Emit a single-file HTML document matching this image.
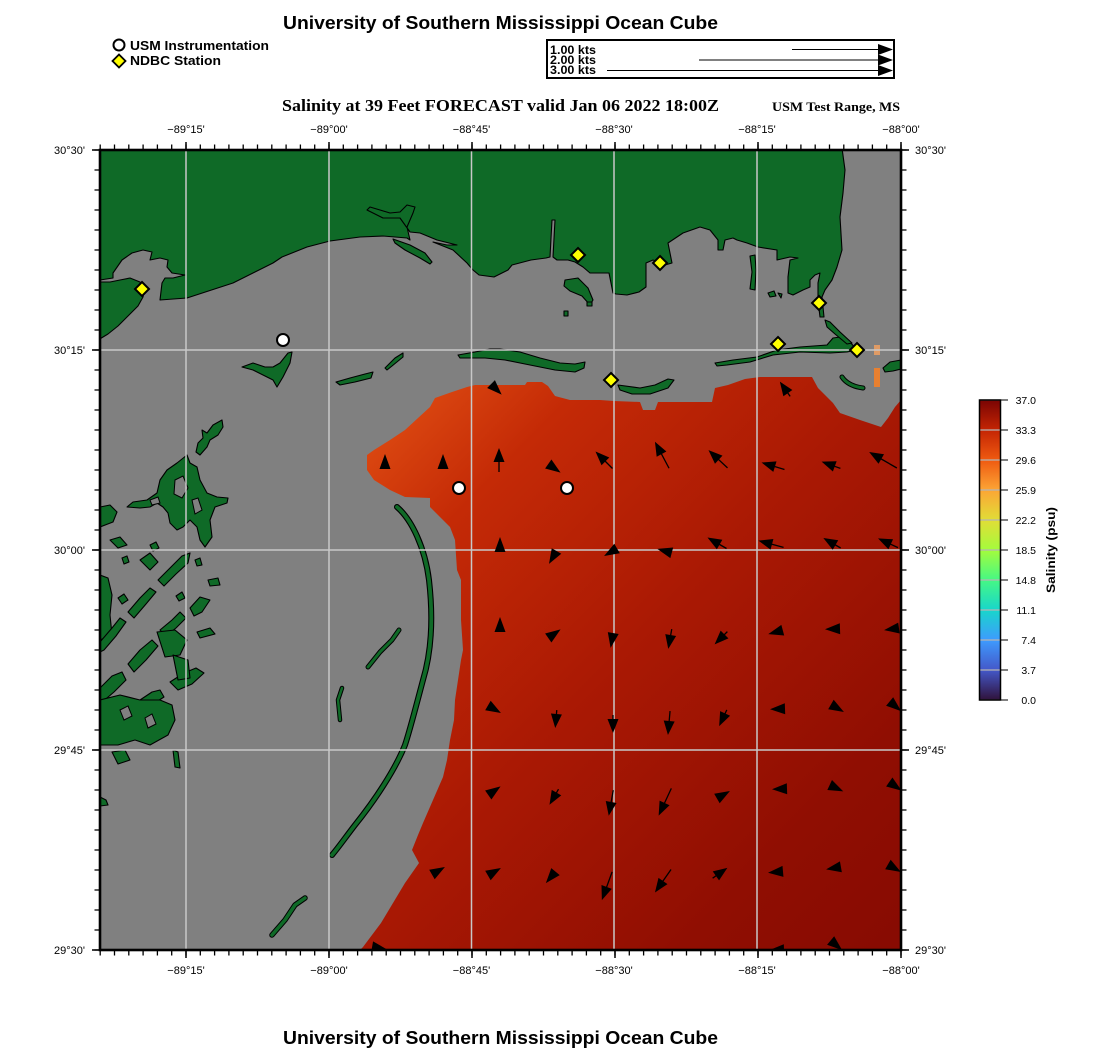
<!DOCTYPE html>
<html><head><meta charset="utf-8"><style>
html,body{margin:0;padding:0;background:#fff;}
svg{display:block;}
text{font-family:"Liberation Sans",sans-serif;}
.ser{font-family:"Liberation Serif",serif;font-weight:bold;}
.b{font-weight:bold;}
</style></head><body>
<svg width="1100" height="1050" viewBox="0 0 1100 1050" xmlns="http://www.w3.org/2000/svg">
<defs>
<linearGradient id="sal" gradientUnits="userSpaceOnUse" x1="390" y1="430" x2="900" y2="930">
<stop offset="0" stop-color="#da4610"/>
<stop offset="0.15" stop-color="#c42a06"/>
<stop offset="0.45" stop-color="#aa1904"/>
<stop offset="0.8" stop-color="#900e02"/>
<stop offset="1" stop-color="#880b02"/>
</linearGradient>
<linearGradient id="cb" x1="0" y1="1" x2="0" y2="0">
<stop offset="0" stop-color="#30123b"/>
<stop offset="0.1" stop-color="#4458c9"/>
<stop offset="0.2" stop-color="#3e9bfe"/>
<stop offset="0.3" stop-color="#18d6cb"/>
<stop offset="0.4" stop-color="#46f884"/>
<stop offset="0.5" stop-color="#a4fc3c"/>
<stop offset="0.6" stop-color="#e1dd37"/>
<stop offset="0.7" stop-color="#fca535"/>
<stop offset="0.8" stop-color="#ef5a11"/>
<stop offset="0.9" stop-color="#c42503"/>
<stop offset="1" stop-color="#7a0403"/>
</linearGradient>
<clipPath id="mapclip"><rect x="100" y="150" width="801" height="800"/></clipPath>
</defs>

<!-- Titles -->
<text x="500.5" y="29" text-anchor="middle" class="b" font-size="18" textLength="435" lengthAdjust="spacingAndGlyphs">University of Southern Mississippi Ocean Cube</text>
<text x="500.5" y="1044" text-anchor="middle" class="b" font-size="18" textLength="435" lengthAdjust="spacingAndGlyphs">University of Southern Mississippi Ocean Cube</text>

<!-- Legend -->
<circle cx="119" cy="45" r="5.5" fill="#fff" stroke="#000" stroke-width="2"/>
<text x="130" y="50" class="b" font-size="13" textLength="139" lengthAdjust="spacingAndGlyphs">USM Instrumentation</text>
<polygon points="119,54.5 125.5,61 119,67.5 112.5,61" fill="#ffff00" stroke="#000" stroke-width="1.8"/>
<text x="130" y="65" class="b" font-size="13" textLength="91" lengthAdjust="spacingAndGlyphs">NDBC Station</text>

<!-- Vector scale box -->
<rect x="547" y="40" width="347" height="38" fill="#fff" stroke="#000" stroke-width="2"/>
<text x="550" y="54" class="b" font-size="12" textLength="46" lengthAdjust="spacingAndGlyphs">1.00 kts</text>
<text x="550" y="64" class="b" font-size="12" textLength="46" lengthAdjust="spacingAndGlyphs">2.00 kts</text>
<text x="550" y="74" class="b" font-size="12" textLength="46" lengthAdjust="spacingAndGlyphs">3.00 kts</text>
<g stroke="#000" stroke-width="1">
<line x1="792" y1="49.5" x2="882" y2="49.5"/>
<line x1="699" y1="60" x2="882" y2="60"/>
<line x1="607" y1="70.5" x2="882" y2="70.5"/>
</g>
<g fill="#000">
<polygon points="878,44 893,49.5 878,55"/>
<polygon points="878,54.5 893,60 878,65.5"/>
<polygon points="878,65 893,70.5 878,76"/>
</g>

<!-- Subtitle -->
<text x="500.5" y="111" text-anchor="middle" class="ser" font-size="17" textLength="437" lengthAdjust="spacingAndGlyphs">Salinity at 39 Feet FORECAST valid Jan 06 2022 18:00Z</text>
<text x="772" y="111" class="ser" font-size="13" textLength="128" lengthAdjust="spacingAndGlyphs">USM Test Range, MS</text>

<!-- MAP -->
<g clip-path="url(#mapclip)">
<rect x="100" y="150" width="801" height="800" fill="#808080"/>

<!-- Salinity field -->
<polygon fill="url(#sal)" points="367,455 374,450 390,440 405,430 418,418 430,407 435,398 452,392 467,387 475,385 525,385 527,382 542,382 548,386 555,396 570,400 600,400 614,401 640,402 643,410 655,410 658,402 690,402 712,402 715,388 728,385 745,379 760,377 812,377 818,388 833,403 840,413 860,420 881,427 888,418 895,407 901,400 901,950 360,950 363,947 372,935 381,923 393,903 405,883 419,863 412,850 418,835 423,823 433,800 443,777 447,760 450,740 454,720 455,700 458,680 461,660 463,650 461,620 461,580 457,570 455,540 450,527 440,517 430,507 430,498 405,497 390,490 374,480 367,470"/>

<g fill="#0f6a27" stroke="#000" stroke-width="1.1" stroke-linejoin="round">
<!-- North mainland -->
<polygon points="98,148 842,148 845,170 843,193 840,217 842,250 837,267 832,280 825,290 822,297 824,317 820,317 818,300 818,283 820,273 815,275 810,280 810,287 803,290 793,295 788,293 788,277 790,260 798,258 790,257 777,260 777,250 758,247 747,243 737,240 733,238 725,240 723,250 718,250 718,240 710,230 700,227 683,233 668,243 672,263 665,265 653,260 646,263 646,287 639,292 627,295 616,294 613,293 609,273 590,273 583,267 575,262 568,260 557,260 553,257 555,220 552,220 550,257 546,258 531,260 512,265 508,270 494,277 479,275 473,270 467,263 453,250 433,242 447,245 457,245 437,240 420,233 410,232 400,218 383,218 377,215 367,210 370,207 380,210 390,213 400,212 407,205 415,207 413,213 407,227 410,240 407,238 383,236 360,237 330,241 307,247 282,257 273,263 233,283 187,298 160,300 162,283 165,278 173,278 185,275 172,273 167,267 168,260 160,258 150,260 152,252 143,250 132,253 122,260 113,273 113,278 100,280 98,280"/>
<!-- Louisiana peninsula -->
<polygon points="98,282 110,282 120,280 130,278 140,282 145,288 143,297 138,306 128,316 118,326 108,334 98,340"/>
<!-- strip islands near Biloxi -->
<polygon points="393,239 410,245 425,253 432,262 430,264 420,258 405,250 395,243"/>
<!-- Round island etc -->
<polygon points="565,280 578,278 588,288 593,300 590,305 582,296 570,291 564,286"/>
<polygon points="750,256 755,255 756,270 755,290 750,289 752,272"/>
<polygon points="768,293 774,291 776,296 770,297"/>
<polygon points="778,293 782,294 781,298"/>
<polygon points="587,302 592,302 592,306 587,306"/>
<polygon points="564,311 568,311 568,316 564,316"/>
<!-- Cat Island -->
<polygon points="242,367 253,363 265,367 273,367 280,363 288,353 292,352 290,363 283,377 277,387 273,380 267,377 253,370"/>
<!-- Ship Island -->
<polygon points="336,382 350,378 365,374 373,372 371,378 355,382 340,385"/>
<polygon points="385,368 395,358 403,353 403,357 392,366 387,370"/>
<!-- Horn Island -->
<polygon points="458,355 475,352 490,349 500,349 520,352 540,358 560,363 575,364 585,362 584,368 575,372 555,370 530,365 505,360 485,358 470,358 460,358"/>
<!-- Petit Bois -->
<polygon points="618,385 640,388 655,385 668,379 674,380 668,388 650,394 632,394 620,390"/>
<!-- Dauphin Island -->
<polygon points="715,363 733,360 757,357 777,350 800,347 827,345 833,338 840,337 850,342 857,350 847,352 830,353 800,352 773,355 750,362 727,365 717,366"/>
<!-- Mobile point strip -->
<polygon points="825,320 830,322 840,332 852,343 847,344 835,334 827,327"/>
<polygon points="883,368 890,362 901,360 901,369 893,371 885,372"/>
<!-- Marsh -->
<polygon points="222,420 223,427 218,435 210,440 207,447 200,455 196,452 198,443 203,438 202,430 207,433 213,425"/>
<polygon points="187,455 190,463 197,467 200,480 207,493 217,497 228,498 227,503 215,507 210,520 212,537 205,547 200,540 197,527 190,520 183,527 177,530 170,523 168,513 163,507 157,503 150,507 140,508 127,507 133,502 147,500 157,493 160,480 167,470 177,463"/>
<polygon points="100,507 110,505 117,512 113,522 100,527"/>
<polygon points="110,540 120,537 127,545 118,548"/>
<polygon points="100,575 108,578 112,595 110,615 112,635 100,640"/>
<!-- broken diagonal strips -->
<polygon points="100,642 112,628 120,618 126,622 116,636 104,650 100,652"/>
<polygon points="128,612 140,598 150,588 156,592 146,604 134,618"/>
<polygon points="158,580 170,568 182,556 190,553 188,563 176,574 164,586"/>
<polygon points="100,688 112,676 122,672 126,680 114,692 100,704"/>
<polygon points="128,664 140,650 152,640 158,646 146,660 134,672"/>
<polygon points="160,630 172,620 180,612 186,618 176,628 166,636"/>
<polygon points="190,608 200,597 210,600 202,612 194,616"/>
<polygon points="100,726 115,716 128,708 133,714 118,726 104,736"/>
<polygon points="140,700 152,692 160,690 164,697 150,706"/>
<polygon points="170,682 184,673 196,668 204,673 192,684 178,690"/>
<polygon points="100,700 120,695 140,700 160,700 172,705 175,720 168,735 150,745 135,740 118,745 100,745"/>
<polygon points="157,632 175,630 187,640 180,655 165,657"/>
<polygon points="173,655 188,660 190,678 178,680"/>
<polygon points="197,632 210,628 215,634 200,638"/>
<polygon points="208,580 218,578 220,585 210,586"/>
<polygon points="112,752 125,750 130,760 118,764"/>
<polygon points="173,750 178,752 180,768 175,767"/>
<polygon points="100,797 106,800 108,805 100,806"/>
<polygon points="140,560 150,553 158,562 150,570"/>
<polygon points="118,598 124,594 128,600 122,604"/>
<polygon points="176,596 182,592 185,598 179,601"/>
<polygon points="150,545 156,542 159,548 153,551"/>
<polygon points="122,558 127,556 129,562 124,564"/>
<polygon points="195,560 200,558 202,565 197,566"/>
</g>
<!-- gray holes in marsh cluster -->
<g fill="#808080" stroke="#000" stroke-width="1">
<polygon points="175,480 183,476 188,488 182,498 174,494"/>
<polygon points="192,500 198,498 202,510 195,514"/>
<polygon points="150,500 158,497 160,503 152,505"/>
<polygon points="120,710 128,706 132,716 124,720"/>
<polygon points="145,718 152,714 156,724 148,728"/>
</g>

<!-- Chandeleur arc and strands -->
<g fill="none" stroke-linecap="round" stroke-linejoin="round">
<path d="M397,507 C412,520 425,548 429,580 C433,615 432,650 423,680 C415,710 410,730 405,745 C395,770 375,800 355,825 C345,838 338,848 332,855" stroke="#000" stroke-width="6"/>
<path d="M397,507 C412,520 425,548 429,580 C433,615 432,650 423,680 C415,710 410,730 405,745 C395,770 375,800 355,825 C345,838 338,848 332,855" stroke="#0f6a27" stroke-width="3.8"/>
<path d="M368,667 L380,652 L392,640 L399,630" stroke="#000" stroke-width="5"/>
<path d="M368,667 L380,652 L392,640 L399,630" stroke="#0f6a27" stroke-width="3"/>
<path d="M340,720 L338,700 L342,688" stroke="#000" stroke-width="4.5"/>
<path d="M340,720 L338,700 L342,688" stroke="#0f6a27" stroke-width="2.5"/>
<path d="M272,935 L285,920 L295,905 L305,898" stroke="#000" stroke-width="5.5"/>
<path d="M272,935 L285,920 L295,905 L305,898" stroke="#0f6a27" stroke-width="3.5"/>
<path d="M842,377 Q848,386 863,388" stroke="#000" stroke-width="5"/>
<path d="M842,377 Q848,386 863,388" stroke="#0f6a27" stroke-width="3"/>
</g>

<!-- orange bits -->
<rect x="874" y="345" width="6" height="10" fill="#f0a060" opacity="0.85"/>
<rect x="874" y="368" width="6" height="19" fill="#e88030"/>

<!-- Grid -->
<g stroke="#c8c8c8" stroke-width="1.5">
<line x1="186" y1="150" x2="186" y2="950"/>
<line x1="329" y1="150" x2="329" y2="950"/>
<line x1="471.5" y1="150" x2="471.5" y2="950"/>
<line x1="614" y1="150" x2="614" y2="950"/>
<line x1="757" y1="150" x2="757" y2="950"/>
<line x1="100" y1="350" x2="901" y2="350"/>
<line x1="100" y1="550" x2="901" y2="550"/>
<line x1="100" y1="750" x2="901" y2="750"/>
</g>

<!-- Current vectors -->
<g fill="#000" stroke="#000" stroke-width="1.3">
<g transform="translate(496,389) rotate(45)"><polygon points="8,0 -7,-5.5 -7,5.5" stroke="none"/></g>
<g transform="translate(785,389) rotate(-125)"><line x1="-9" y1="0" x2="-4" y2="0"/><polygon points="9,0 -5,-5.5 -5,5.5" stroke="none"/></g>

<g transform="translate(385,462) rotate(-90)"><polygon points="8,0 -7,-5.5 -7,5.5" stroke="none"/></g>
<g transform="translate(443,462) rotate(-90)"><polygon points="8,0 -7,-5.5 -7,5.5" stroke="none"/></g>
<g transform="translate(499,460) rotate(-90)"><line x1="-12" y1="0" x2="0" y2="0"/><polygon points="12,0 -2,-5.5 -2,5.5" stroke="none"/></g>
<g transform="translate(554,468) rotate(35)"><polygon points="8,0 -7,-5.5 -7,5.5" stroke="none"/></g>
<g transform="translate(604,460) rotate(-135)"><line x1="-12" y1="0" x2="0" y2="0"/><polygon points="12,0 -2,-5.5 -2,5.5" stroke="none"/></g>
<g transform="translate(662,455) rotate(-118)"><line x1="-15" y1="0" x2="3" y2="0"/><polygon points="15,0 1,-5.5 1,5.5" stroke="none"/></g>
<g transform="translate(718,459) rotate(-137)"><line x1="-13" y1="0" x2="1" y2="0"/><polygon points="13,0 -1,-5.5 -1,5.5" stroke="none"/></g>
<g transform="translate(773,466) rotate(-163)"><line x1="-12" y1="0" x2="0" y2="0"/><polygon points="12,0 -2,-5.5 -2,5.5" stroke="none"/></g>
<g transform="translate(831,465) rotate(-160)"><line x1="-10" y1="0" x2="-2" y2="0"/><polygon points="10,0 -4,-5.5 -4,5.5" stroke="none"/></g>
<g transform="translate(883,460) rotate(-150)"><line x1="-16" y1="0" x2="4" y2="0"/><polygon points="16,0 2,-5.5 2,5.5" stroke="none"/></g>

<g transform="translate(500,545) rotate(-90)"><polygon points="8,0 -7,-5.5 -7,5.5" stroke="none"/></g>
<g transform="translate(553,557) rotate(120)"><polygon points="8,0 -7,-5.5 -7,5.5" stroke="none"/></g>
<g transform="translate(611,552) rotate(150)"><polygon points="8,0 -7,-5.5 -7,5.5" stroke="none"/></g>
<g transform="translate(665,551) rotate(-165)"><polygon points="8,0 -7,-5.5 -7,5.5" stroke="none"/></g>
<g transform="translate(717,543) rotate(-150)"><line x1="-11" y1="0" x2="-1" y2="0"/><polygon points="11,0 -3,-5.5 -3,5.5" stroke="none"/></g>
<g transform="translate(771,544) rotate(-165)"><line x1="-13" y1="0" x2="1" y2="0"/><polygon points="13,0 -1,-5.5 -1,5.5" stroke="none"/></g>
<g transform="translate(832,543) rotate(-150)"><line x1="-10" y1="0" x2="-2" y2="0"/><polygon points="10,0 -4,-5.5 -4,5.5" stroke="none"/></g>
<g transform="translate(888,543) rotate(-155)"><line x1="-11" y1="0" x2="-1" y2="0"/><polygon points="11,0 -3,-5.5 -3,5.5" stroke="none"/></g>

<g transform="translate(500,625) rotate(-90)"><polygon points="8,0 -7,-5.5 -7,5.5" stroke="none"/></g>
<g transform="translate(554,634) rotate(-35)"><polygon points="8,0 -7,-5.5 -7,5.5" stroke="none"/></g>
<g transform="translate(612,640) rotate(100)"><polygon points="8,0 -7,-5.5 -7,5.5" stroke="none"/></g>
<g transform="translate(670,639) rotate(100)"><line x1="-10" y1="0" x2="-2" y2="0"/><polygon points="10,0 -4,-5.5 -4,5.5" stroke="none"/></g>
<g transform="translate(721,638) rotate(135)"><line x1="-9" y1="0" x2="-3" y2="0"/><polygon points="9,0 -5,-5.5 -5,5.5" stroke="none"/></g>
<g transform="translate(776,632) rotate(165)"><polygon points="8,0 -7,-5.5 -7,5.5" stroke="none"/></g>
<g transform="translate(833,629) rotate(178)"><polygon points="8,0 -7,-5.5 -7,5.5" stroke="none"/></g>
<g transform="translate(892,629) rotate(172)"><polygon points="8,0 -7,-5.5 -7,5.5" stroke="none"/></g>

<g transform="translate(494,709) rotate(30)"><polygon points="8,0 -7,-5.5 -7,5.5" stroke="none"/></g>
<g transform="translate(556,719) rotate(95)"><line x1="-9" y1="0" x2="-3" y2="0"/><polygon points="9,0 -5,-5.5 -5,5.5" stroke="none"/></g>
<g transform="translate(613,724) rotate(90)"><line x1="-9" y1="0" x2="-3" y2="0"/><polygon points="9,0 -5,-5.5 -5,5.5" stroke="none"/></g>
<g transform="translate(669,723) rotate(95)"><line x1="-12" y1="0" x2="0" y2="0"/><polygon points="12,0 -2,-5.5 -2,5.5" stroke="none"/></g>
<g transform="translate(723,718) rotate(115)"><line x1="-9" y1="0" x2="-3" y2="0"/><polygon points="9,0 -5,-5.5 -5,5.5" stroke="none"/></g>
<g transform="translate(778,709) rotate(178)"><polygon points="8,0 -7,-5.5 -7,5.5" stroke="none"/></g>
<g transform="translate(837,708) rotate(30)"><polygon points="8,0 -7,-5.5 -7,5.5" stroke="none"/></g>
<g transform="translate(895,706) rotate(40)"><polygon points="8,0 -7,-5.5 -7,5.5" stroke="none"/></g>

<g transform="translate(494,791) rotate(-35)"><polygon points="8,0 -7,-5.5 -7,5.5" stroke="none"/></g>
<g transform="translate(554,797) rotate(120)"><line x1="-9" y1="0" x2="-3" y2="0"/><polygon points="9,0 -5,-5.5 -5,5.5" stroke="none"/></g>
<g transform="translate(611,803) rotate(100)"><line x1="-13" y1="0" x2="1" y2="0"/><polygon points="13,0 -1,-5.5 -1,5.5" stroke="none"/></g>
<g transform="translate(665,802) rotate(115)"><line x1="-15" y1="0" x2="3" y2="0"/><polygon points="15,0 1,-5.5 1,5.5" stroke="none"/></g>
<g transform="translate(723,795) rotate(-30)"><polygon points="8,0 -7,-5.5 -7,5.5" stroke="none"/></g>
<g transform="translate(780,789) rotate(178)"><polygon points="8,0 -7,-5.5 -7,5.5" stroke="none"/></g>
<g transform="translate(836,788) rotate(25)"><polygon points="8,0 -7,-5.5 -7,5.5" stroke="none"/></g>
<g transform="translate(895,786) rotate(35)"><polygon points="8,0 -7,-5.5 -7,5.5" stroke="none"/></g>

<g transform="translate(438,871) rotate(-30)"><polygon points="8,0 -7,-5.5 -7,5.5" stroke="none"/></g>
<g transform="translate(494,872) rotate(-30)"><polygon points="8,0 -7,-5.5 -7,5.5" stroke="none"/></g>
<g transform="translate(551,877) rotate(130)"><polygon points="8,0 -7,-5.5 -7,5.5" stroke="none"/></g>
<g transform="translate(607,886) rotate(110)"><line x1="-15" y1="0" x2="3" y2="0"/><polygon points="15,0 1,-5.5 1,5.5" stroke="none"/></g>
<g transform="translate(663,881) rotate(125)"><line x1="-14" y1="0" x2="2" y2="0"/><polygon points="14,0 0,-5.5 0,5.5" stroke="none"/></g>
<g transform="translate(720,873) rotate(-35)"><line x1="-9" y1="0" x2="-3" y2="0"/><polygon points="9,0 -5,-5.5 -5,5.5" stroke="none"/></g>
<g transform="translate(776,872) rotate(175)"><polygon points="8,0 -7,-5.5 -7,5.5" stroke="none"/></g>
<g transform="translate(834,868) rotate(170)"><polygon points="8,0 -7,-5.5 -7,5.5" stroke="none"/></g>
<g transform="translate(894,868) rotate(30)"><polygon points="8,0 -7,-5.5 -7,5.5" stroke="none"/></g>

<g transform="translate(379,948) rotate(10)"><polygon points="8,0 -7,-5.5 -7,5.5" stroke="none"/></g>
<g transform="translate(777,950) rotate(178)"><polygon points="8,0 -7,-5.5 -7,5.5" stroke="none"/></g>
<g transform="translate(836,945) rotate(40)"><polygon points="8,0 -7,-5.5 -7,5.5" stroke="none"/></g>
</g>

<!-- USM instrumentation -->
<g fill="#fff" stroke="#000" stroke-width="2">
<circle cx="283" cy="340" r="6"/>
<circle cx="459" cy="488" r="6"/>
<circle cx="567" cy="488" r="6"/>
</g>
<!-- NDBC stations -->
<g fill="#ffff00" stroke="#000" stroke-width="2">
<polygon points="142,282 149,289 142,296 135,289"/>
<polygon points="578,248 585,255 578,262 571,255"/>
<polygon points="660,256 667,263 660,270 653,263"/>
<polygon points="611,373 618,380 611,387 604,380"/>
<polygon points="778,337 785,344 778,351 771,344"/>
<polygon points="819,296 826,303 819,310 812,303"/>
<polygon points="857,343 864,350 857,357 850,350"/>
</g>
</g>

<!-- Frame -->
<rect x="100" y="150" width="801" height="800" fill="none" stroke="#000" stroke-width="2.6"/>
<!-- Ticks: minor -->
<g stroke="#000" fill="none">
<line x1="99.55" y1="147" x2="902" y2="147" stroke-width="5" stroke-dasharray="1.3 13"/>
<line x1="99.55" y1="953" x2="902" y2="953" stroke-width="5" stroke-dasharray="1.3 13"/>
<line x1="97" y1="149.35" x2="97" y2="951" stroke-width="5" stroke-dasharray="1.3 18.7"/>
<line x1="904" y1="149.35" x2="904" y2="951" stroke-width="5" stroke-dasharray="1.3 18.7"/>
<!-- major -->
<line x1="185.25" y1="146" x2="902" y2="146" stroke-width="8" stroke-dasharray="1.5 141.5"/>
<line x1="185.25" y1="954" x2="902" y2="954" stroke-width="8" stroke-dasharray="1.5 141.5"/>
<line x1="96" y1="149.25" x2="96" y2="951" stroke-width="8" stroke-dasharray="1.5 198.5"/>
<line x1="905" y1="149.25" x2="905" y2="951" stroke-width="8" stroke-dasharray="1.5 198.5"/>
</g>

<!-- Axis labels -->
<g font-size="11" text-anchor="middle" fill="#000">
<text x="186" y="133">−89°15'</text>
<text x="329" y="133">−89°00'</text>
<text x="471.5" y="133">−88°45'</text>
<text x="614" y="133">−88°30'</text>
<text x="757" y="133">−88°15'</text>
<text x="901" y="133">−88°00'</text>
<text x="186" y="974">−89°15'</text>
<text x="329" y="974">−89°00'</text>
<text x="471.5" y="974">−88°45'</text>
<text x="614" y="974">−88°30'</text>
<text x="757" y="974">−88°15'</text>
<text x="901" y="974">−88°00'</text>
</g>
<g font-size="11" text-anchor="end" fill="#000">
<text x="85" y="154">30°30'</text>
<text x="85" y="354">30°15'</text>
<text x="85" y="554">30°00'</text>
<text x="85" y="754">29°45'</text>
<text x="85" y="954">29°30'</text>
</g>
<g font-size="11" fill="#000">
<text x="915" y="154">30°30'</text>
<text x="915" y="354">30°15'</text>
<text x="915" y="554">30°00'</text>
<text x="915" y="754">29°45'</text>
<text x="915" y="954">29°30'</text>
</g>

<!-- Colorbar -->
<rect x="979.5" y="400" width="21" height="300" fill="url(#cb)"/>
<g stroke="#b4b4b4" stroke-width="1.2">
<line x1="980" y1="400" x2="1000" y2="400"/>
<line x1="980" y1="430" x2="1000" y2="430"/>
<line x1="980" y1="460" x2="1000" y2="460"/>
<line x1="980" y1="490" x2="1000" y2="490"/>
<line x1="980" y1="520" x2="1000" y2="520"/>
<line x1="980" y1="550" x2="1000" y2="550"/>
<line x1="980" y1="580" x2="1000" y2="580"/>
<line x1="980" y1="610" x2="1000" y2="610"/>
<line x1="980" y1="640" x2="1000" y2="640"/>
<line x1="980" y1="670" x2="1000" y2="670"/>
<line x1="980" y1="700" x2="1000" y2="700"/>
</g>
<rect x="979.5" y="400" width="21" height="300" fill="none" stroke="#000" stroke-width="1.5"/>
<g stroke="#000" stroke-width="1">
<line x1="1000" y1="400" x2="1008" y2="400"/>
<line x1="1000" y1="430" x2="1008" y2="430"/>
<line x1="1000" y1="460" x2="1008" y2="460"/>
<line x1="1000" y1="490" x2="1008" y2="490"/>
<line x1="1000" y1="520" x2="1008" y2="520"/>
<line x1="1000" y1="550" x2="1008" y2="550"/>
<line x1="1000" y1="580" x2="1008" y2="580"/>
<line x1="1000" y1="610" x2="1008" y2="610"/>
<line x1="1000" y1="640" x2="1008" y2="640"/>
<line x1="1000" y1="670" x2="1008" y2="670"/>
<line x1="1000" y1="700" x2="1008" y2="700"/>
</g>
<g font-size="10.5" text-anchor="end" fill="#000">
<text x="1036" y="404">37.0</text>
<text x="1036" y="434">33.3</text>
<text x="1036" y="464">29.6</text>
<text x="1036" y="494">25.9</text>
<text x="1036" y="524">22.2</text>
<text x="1036" y="554">18.5</text>
<text x="1036" y="584">14.8</text>
<text x="1036" y="614">11.1</text>
<text x="1036" y="644">7.4</text>
<text x="1036" y="674">3.7</text>
<text x="1036" y="704">0.0</text>
</g>
<text transform="translate(1055,550) rotate(-90)" text-anchor="middle" class="b" font-size="12" textLength="86" lengthAdjust="spacingAndGlyphs">Salinity (psu)</text>
</svg>
</body></html>
